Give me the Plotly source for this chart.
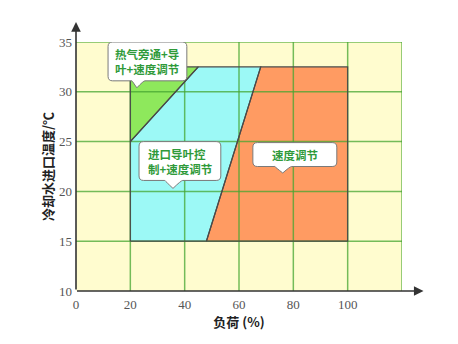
import plotly.graph_objects as go

# Operating regions (load %, inlet cooling-water temperature °C)
bypass_x = [20, 20, 45]
bypass_y = [25, 32.5, 32.5]
vane_x = [20, 20, 45, 68, 48]
vane_y = [15, 25, 32.5, 32.5, 15]
speed_x = [48, 68, 100, 100]
speed_y = [15, 32.5, 32.5, 15]

x_ticks = [0, 20, 40, 60, 80, 100]
y_ticks = [10, 15, 20, 25, 30, 35]
x_grid = [20, 40, 60, 80, 100, 120]
y_grid = [15, 20, 25, 30, 35]

labels = ["热气旁通+导<br>叶+速度调节", "进口导叶控<br>制+速度调节", "速度调节"]

fig = go.Figure()

regions = [
    (vane_x, vane_y, "#9cf9f6"),
    (speed_x, speed_y, "#ff9b62"),
    (bypass_x, bypass_y, "#8ee85c"),
]
for xs, ys, col in regions:
    fig.add_trace(go.Scatter(x=xs + [xs[0]], y=ys + [ys[0]], mode="lines",
                             fill="toself", fillcolor=col,
                             line=dict(width=0), hoverinfo="skip"))

# grid drawn over the filled regions
gx, gy = [], []
for v in x_grid:
    gx += [v, v, None]
    gy += [10, 35, None]
for v in y_grid:
    gx += [0, 120, None]
    gy += [v, v, None]
fig.add_trace(go.Scatter(x=gx, y=gy, mode="lines",
                         line=dict(color="rgba(70,165,50,0.75)", width=1.5),
                         hoverinfo="skip"))

# region outlines
for xs, ys, col in regions:
    fig.add_trace(go.Scatter(x=xs + [xs[0]], y=ys + [ys[0]], mode="lines",
                             line=dict(color="#4a4a4a", width=1.2),
                             hoverinfo="skip"))


def callout(x0, x1, y0, y1, tb0, tb1, tx, ty, rx=1.7, ry=0.45):
    """Rounded box with a small tail on its bottom edge."""
    return (f"M {x0+rx},{y1} L {x1-rx},{y1} Q {x1},{y1} {x1},{y1-ry} "
            f"L {x1},{y0+ry} Q {x1},{y0} {x1-rx},{y0} "
            f"L {tb1},{y0} Q {tb1-0.6},{y0} {tx},{ty} "
            f"Q {tb0+0.3},{y0-0.1} {tb0},{y0} "
            f"L {x0+rx},{y0} Q {x0},{y0} {x0},{y0+ry} "
            f"L {x0},{y1-ry} Q {x0},{y1} {x0+rx},{y1} Z")


boxes = [
    (11.8, 40.8, 31.1, 35.0, 20.6, 25.4, 22.4, 30.4),
    (23.2, 53.3, 21.1, 25.0, 32.7, 39.3, 35.7, 20.3),
    (65.1, 96.0, 22.5, 24.9, 73.2, 79.4, 76.1, 21.85),
]
for (x0, x1, y0, y1, tb0, tb1, tx, ty), txt in zip(boxes, labels):
    fig.add_shape(type="path", xref="x", yref="y",
                  path=callout(x0, x1, y0, y1, tb0, tb1, tx, ty),
                  fillcolor="white", line=dict(color="#7a7a7a", width=1),
                  layer="above")
    fig.add_annotation(x=(x0 + x1) / 2, y=(y0 + y1) / 2, text=f"<b>{txt}</b>",
                       showarrow=False, align="left",
                       font=dict(family="Noto Sans CJK SC", size=11.5,
                                 color="#2f9a3a"))

# axis arrows
fig.add_annotation(xref="paper", yref="paper", x=0, y=1.08, ax=0, ay=269,
                   axref="pixel", ayref="pixel", showarrow=True, text="",
                   arrowhead=2, arrowsize=1.2, arrowwidth=1.6,
                   arrowcolor="#333333")
fig.add_annotation(xref="paper", yref="paper", x=1.066, y=0, ax=-348, ay=0,
                   axref="pixel", ayref="pixel", showarrow=True, text="",
                   arrowhead=2, arrowsize=1.2, arrowwidth=1.6,
                   arrowcolor="#333333")

tick_font = dict(family="Liberation Serif", size=13, color="#555555")
title_font = dict(family="Noto Sans CJK SC", size=13, color="#222222")

fig.update_layout(
    width=458, height=344,
    margin=dict(l=76, r=56, t=42, b=53),
    paper_bgcolor="white",
    plot_bgcolor="#fffccf",
    showlegend=False,
    xaxis=dict(range=[0, 120], tickvals=x_ticks, showgrid=False,
               zeroline=False, showline=False, ticks="",
               tickfont=tick_font, ticklabelstandoff=4,
               title=dict(text="<b>负荷 (%)</b>", font=title_font, standoff=4)),
    yaxis=dict(range=[10, 35], tickvals=y_ticks, showgrid=False,
               zeroline=False, showline=False, ticks="",
               tickfont=tick_font, ticklabelstandoff=3,
               title=dict(text="<b>冷却水进口温度/℃</b>", font=title_font,
                          standoff=2)),
)

fig.write_html("out.html")
